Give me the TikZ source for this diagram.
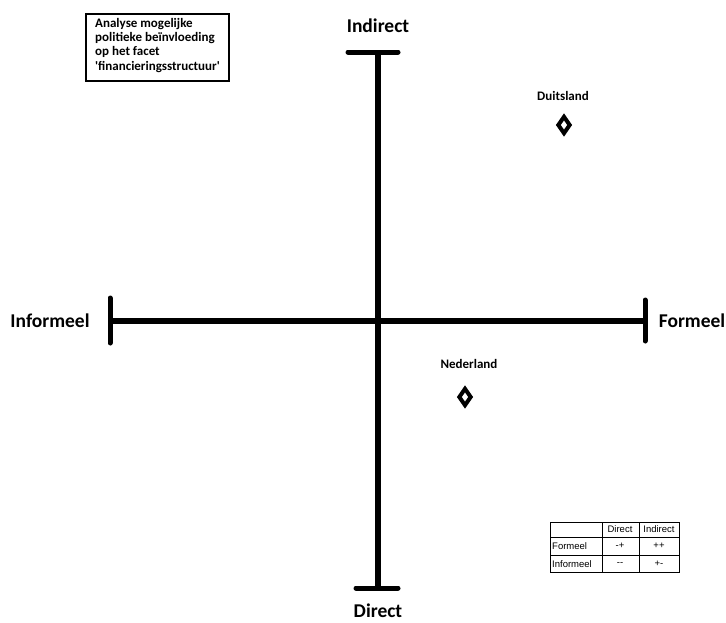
\documentclass[tikz,border=0pt]{standalone}
\usepackage{fontspec}
\setmainfont{Carlito}
\newfontfamily\titlefont{Carlito}[Ligatures=TeXOff]
\newfontfamily\tabfont{Liberation Sans}[Ligatures=TeXOff]
\usetikzlibrary{shapes.geometric, positioning}

\begin{document}
\begin{tikzpicture}[x=1pt, y=-1pt,
  axis/.style={line width=6pt},
  endbar/.style={line width=5pt, line cap=round},
  pole/.style={font=\fontsize{19.5}{22}\selectfont\bfseries},
  land/.style={font=\fontsize{13}{15}\selectfont\bfseries},
  rhomb/.style={diamond, draw, line width=4pt, minimum width=13pt, minimum height=18pt, inner sep=0pt},
  cell/.style={font=\tabfont\fontsize{9.5}{10}\selectfont, inner sep=1pt}
]
  \useasboundingbox (0,0) rectangle (726,622);

  % assen
  \coordinate (top) at (378,52);
  \coordinate (bot) at (378,588);
  \coordinate (lft) at (110,321);
  \coordinate (rgt) at (645,321);
  \draw[axis] (top) -- (bot);
  \draw[axis] (lft) -- (rgt);
  \draw[endbar] ([xshift=-30]top) -- ([xshift=20]top);
  \draw[endbar] ([xshift=-22]bot) -- ([xshift=20]bot);
  \draw[endbar] ([yshift=-22]lft) -- ([yshift=23]lft);
  \draw[endbar] ([yshift=-20]rgt) -- ([yshift=21]rgt);

  \node[pole] (ind) at (378,26) {Indirect};
  \node[pole, anchor=base, inner sep=0pt] (dir) at (378,617) {Direct};
  \node[pole] (inf) at (50,321) {Informeel};
  \node[pole] (for) at (692,321) {Formeel};

  % titel
  \draw[line width=1.2pt] (86,14) rectangle (229,81);
  \node[anchor=north west, align=left, inner sep=0pt,
        font=\titlefont\fontsize{13}{14.3}\selectfont\bfseries] (titel) at (95,18)
        {Analyse mogelijke\\politieke beïnvloeding\\op het facet\\'financieringsstructuur'};

  % landen
  \node[land] (dl) at (563,96) {Duitsland};
  \node[rhomb] (dlr) at (564,125) {};
  \node[land] (nl) at (469,364) {Nederland};
  \node[rhomb] (nlr) at (465,397) {};

  % tabel
  \draw[line width=0.6pt] (550,522) rectangle (679,572);
  \draw[line width=0.6pt] (602,522) -- (602,572) (639,522) -- (639,572)
                          (550,537) -- (679,537) (550,555) -- (679,555);
  \node[cell] (c1) at (620,529) {Direct};
  \node[cell] (c2) at (659,529) {Indirect};
  \node[cell, anchor=west] (r1) at (551,546) {Formeel};
  \node[cell, anchor=west] (r2) at (551,564) {Informeel};
  \node[cell] (v11) at (620,546) {-+};
  \node[cell] (v12) at (659,546) {++};
  \node[cell] (v21) at (620,564) {--};
  \node[cell] (v22) at (659,564) {+-};
\end{tikzpicture}
\end{document}
